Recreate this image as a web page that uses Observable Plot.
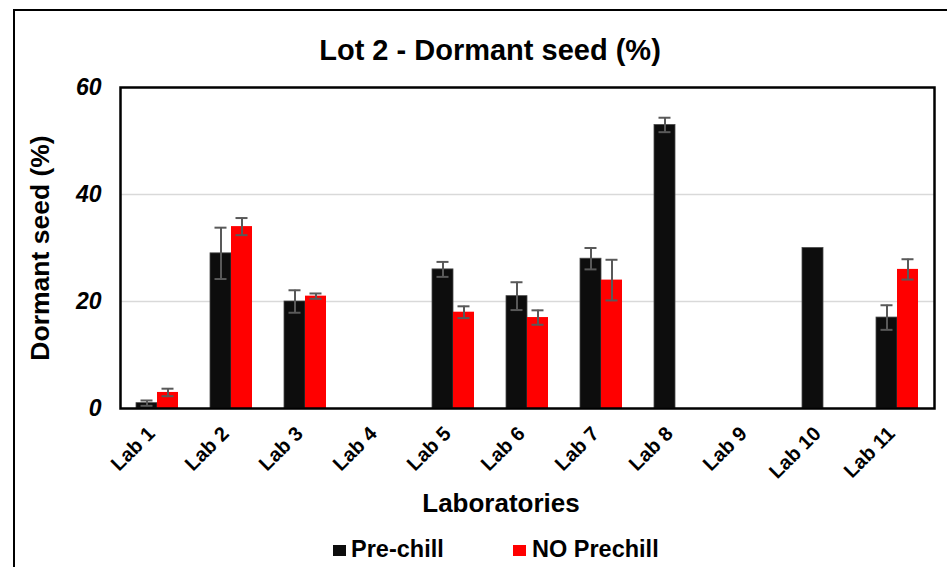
<!DOCTYPE html>
<html>
<head>
<meta charset="utf-8">
<script src="https://cdn.jsdelivr.net/npm/d3@7"></script>
<script src="https://cdn.jsdelivr.net/npm/@observablehq/plot@0.6"></script>
<style>
  html, body { margin: 0; padding: 0; background: #fff; overflow: hidden; }
  body { width: 947px; height: 567px; position: relative; font-family: "Liberation Sans", Arial, sans-serif; font-weight: bold; color: #000; }
  .abs { position: absolute; line-height: 1; white-space: nowrap; }
  #border { position: absolute; left: 13px; top: 9px; width: 960px; height: 600px; border: 2px solid #000; box-sizing: border-box; }
  #chart { position: absolute; left: 0; top: 0; }
  .sw { position: absolute; width: 13px; height: 11px; }
</style>
</head>
<body>
<div id="border"></div>
<div id="chart"></div>
<div class="abs" id="title" style="left:490px; top:35.5px; font-size:29px; transform:translateX(-50%);"></div>
<div class="abs" id="ylabel" style="left:40px; top:248px; font-size:26.5px; transform:translate(-50%,-50%) rotate(-90deg);"></div>
<div class="abs" id="xlabel" style="left:501px; top:490px; font-size:26px; transform:translateX(-50%);"></div>
<div id="legend"></div>
<script>
const title = "Lot 2 - Dormant seed (%)";
const yLabel = "Dormant seed (%)";
const xLabel = "Laboratories";
const labs = ["Lab 1","Lab 2","Lab 3","Lab 4","Lab 5","Lab 6","Lab 7","Lab 8","Lab 9","Lab 10","Lab 11"];
const series = ["Pre-chill","NO Prechill"];
const colors = ["#0d0d0d","#ff0000"];
const prechill      = [1,   29,  20,  null, 26,  21,  28,  53,   null, 30,   17];
const prechillErr   = [0.5, 4.8, 2.1, null, 1.4, 2.6, 2.0, 1.35, null, null, 2.3];
const noPrechill    = [3,   34,  21,  null, 18,  17,  24,  null, null, null, 26];
const noPrechillErr = [0.7, 1.6, 0.5, null, 1.1, 1.35,3.8, null, null, null, 1.9];
const yTicks = [0, 20, 40, 60];
const yGrid = [20, 40];

document.getElementById("title").textContent = title;
document.getElementById("ylabel").textContent = yLabel;
document.getElementById("xlabel").textContent = xLabel;

const data = labs.flatMap((lab, i) => [
  {lab, series: series[0], value: prechill[i], err: prechillErr[i]},
  {lab, series: series[1], value: noPrechill[i], err: noPrechillErr[i]}
]).filter(d => d.value != null);
const errData = data.filter(d => d.err != null);

const font = "Liberation Sans, Arial, sans-serif";

const chart = Plot.plot({
  width: 947,
  height: 567,
  marginTop: 87,
  marginLeft: 116,
  marginRight: 9,
  marginBottom: 159,
  style: {background: "transparent", fontFamily: font, overflow: "visible"},
  fx: {domain: labs, padding: 0, axis: null, label: null},
  x: {domain: series, paddingInner: 0, paddingOuter: 0.75, axis: null},
  y: {domain: [0, 60], axis: null},
  color: {domain: series, range: colors},
  marks: [
    Plot.gridY(yGrid, {stroke: "#d9d9d9", strokeOpacity: 1, strokeWidth: 1.5}),
    Plot.barY(data.filter(d => d.series === series[0]), {fx: "lab", x: "series", y: "value", fill: "series", stroke: "#4a4a4a", strokeWidth: 0.8}),
    Plot.barY(data.filter(d => d.series === series[1]), {fx: "lab", x: "series", y: "value", fill: "series"}),
    Plot.ruleX(errData, {fx: "lab", x: "series", y1: d => d.value - d.err, y2: d => d.value + d.err, stroke: "#595959", strokeWidth: 2}),
    Plot.tickY(errData, {fx: "lab", x: "series", y: d => d.value + d.err, stroke: "#595959", strokeWidth: 2, inset: 4.5}),
    Plot.tickY(errData, {fx: "lab", x: "series", y: d => d.value - d.err, stroke: "#595959", strokeWidth: 2, inset: 4.5}),
    Plot.axisY({ticks: yTicks, tickSize: 0, tickPadding: 19, fontSize: 23, label: null, fontFamily: font, fontWeight: "bold", fontStyle: "italic", fill: "#000"}),
    Plot.text(labs, {fx: d => d, text: d => d, frameAnchor: "bottom", rotate: -45, textAnchor: "end", dx: -1.5, dy: 26.5, fontSize: 20, fontFamily: font, fontWeight: "bold", fill: "#000"}),
    Plot.frame({facet: "super", stroke: "#000", strokeWidth: 2.5})
  ]
});
document.getElementById("chart").appendChild(chart);

// legend
const legend = document.getElementById("legend");
const legendItems = [
  {label: series[0], color: colors[0], sx: 333, tx: 351},
  {label: series[1], color: colors[1], sx: 513, tx: 532}
];
legendItems.forEach(it => {
  const sw = document.createElement("div");
  sw.className = "sw";
  sw.style.left = it.sx + "px";
  sw.style.top = "545px";
  sw.style.background = it.color;
  legend.appendChild(sw);
  const t = document.createElement("div");
  t.className = "abs";
  t.style.left = it.tx + "px";
  t.style.top = "537.5px";
  t.style.fontSize = "23.5px";
  t.textContent = it.label;
  legend.appendChild(t);
});
</script>
</body>
</html>
